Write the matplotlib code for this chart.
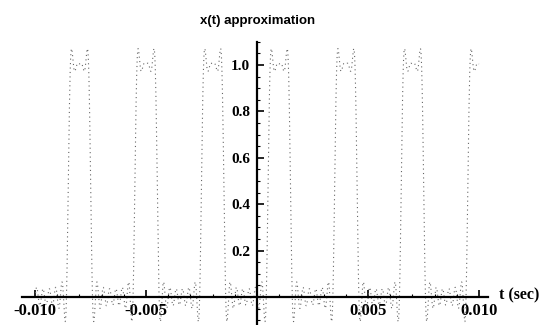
import numpy as np
import matplotlib.pyplot as plt

# pulse train: period 3 ms, pulse 1 ms wide centred at 1 ms
period = 0.003
pulse_center = 0.001
dc_level = 1 / 3
# cosine amplitudes of harmonics 1..10
harmonic_amps = [0.5513, 0.2757, 0.0, -0.1378, -0.1103, 0.0, 0.0788, 0.0689, 0.0, -0.0551]
t_start, t_end = -0.010, 0.010

x_ticks = [-0.010, -0.005, 0.005, 0.010]
x_tick_labels = ['-0.010', '-0.005', '0.005', '0.010']
y_ticks = [0.2, 0.4, 0.6, 0.8, 1.0]
y_tick_labels = ['0.2', '0.4', '0.6', '0.8', '1.0']

t = np.linspace(t_start, t_end, 3000)
x = np.full_like(t, dc_level)
for k, a in enumerate(harmonic_amps, start=1):
    x += a * np.cos(2 * np.pi * k * (t - pulse_center) / period)

fig = plt.figure(figsize=(5.43, 3.25), dpi=100)
ax = fig.add_axes([0, 0, 1, 1])
ax.plot(t, x, color='0.4', lw=0.8, ls=(0, (1, 3)))

ax.set_xlim(-0.01158, 0.01288)
ax.set_ylim(-0.1207, 1.280)

for s in ['top', 'right']:
    ax.spines[s].set_visible(False)
ax.spines['left'].set_position(('data', 0))
ax.spines['bottom'].set_position(('data', 0))
ax.spines['left'].set_bounds(-0.12, 1.10)
ax.spines['bottom'].set_bounds(-0.0106, 0.0104)
ax.spines['left'].set_linewidth(1.6)
ax.spines['bottom'].set_linewidth(1.6)

ax.set_xticks(x_ticks)
ax.set_xticklabels(x_tick_labels, family='Liberation Serif', weight='bold', size=12)
ax.set_yticks(y_ticks)
ax.set_yticklabels(y_tick_labels, family='Liberation Serif', weight='bold', size=11)
# minor ticks only inside the drawn axis lines
ax.set_xticks(np.arange(-10, 11) * 0.001, minor=True)
ax.set_yticks(np.arange(-2, 23) * 0.05, minor=True)
ax.tick_params(axis='both', which='major', direction='in', length=5, width=1.2)
ax.tick_params(axis='x', which='major', pad=4)
ax.tick_params(axis='y', which='major', pad=5)
ax.tick_params(axis='both', which='minor', direction='in', length=2.5, width=0.8)

ax.text(0, 1.19, 'x(t) approximation', ha='center', va='center',
        family='Liberation Sans', weight='bold', size=9.5)
ax.text(0.0109, 0.005, 't (sec)', ha='left', va='center',
        family='Liberation Serif', weight='bold', size=11.5)

fig.savefig('out.png', dpi=100)
